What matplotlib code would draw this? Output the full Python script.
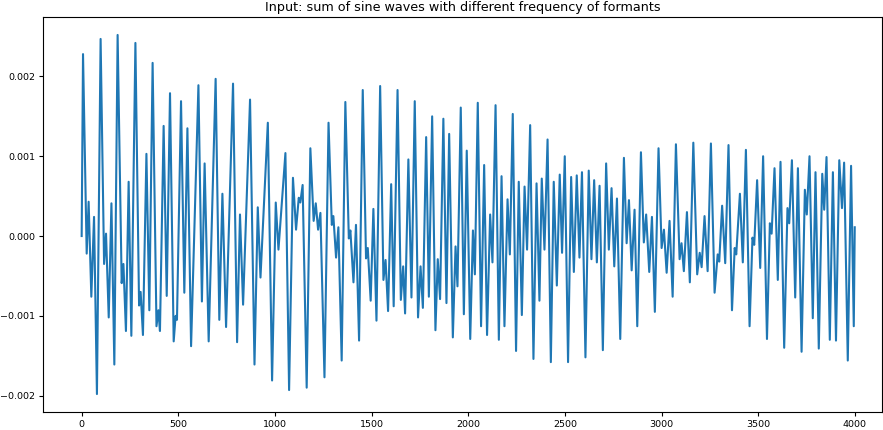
import numpy as np
import matplotlib
matplotlib.use("Agg")
import matplotlib.pyplot as plt

# Turning points of the synthesized signal (sample index, amplitude in units of 1e-3)
sample_idx = [
    0, 7, 26, 36, 50, 64, 79, 98, 116, 126, 140, 154, 169, 186, 207, 216, 229, 243, 257, 278, 297, 305, 317,
    335, 350, 367, 387, 397, 405, 424, 440, 457, 476, 486, 493, 514, 531, 547, 566, 604, 622, 636, 657,
    693, 712, 728, 747, 783, 804, 819, 835, 871, 894, 911, 925, 963, 985, 1004,
    1018, 1054, 1073, 1093, 1109, 1123, 1131, 1143, 1164, 1183, 1200, 1211, 1223, 1235, 1256, 1277, 1294, 1302, 1316, 1328,
    1345, 1364, 1382, 1390, 1406, 1419, 1435, 1454, 1471, 1480, 1495, 1509, 1525, 1544, 1561, 1572, 1585, 1601, 1614, 1634, 1651, 1663, 1673,
    1690, 1706, 1723, 1740, 1753, 1765, 1782, 1796, 1813, 1830, 1842, 1854, 1871, 1887, 1901, 1920, 1934, 1944, 1961, 1977, 1992, 2010, 2024,
    2034, 2049, 2066, 2082, 2097, 2113, 2125, 2141, 2158, 2172, 2187, 2203, 2215, 2230, 2247, 2261, 2277, 2291, 2304, 2320, 2337, 2353, 2368,
    2380, 2394, 2410, 2427, 2442, 2458, 2473, 2485, 2499, 2516, 2532, 2546, 2561, 2575, 2588, 2606, 2623, 2637, 2651, 2665, 2679, 2696,
    2713, 2727, 2741, 2755, 2769, 2786, 2805, 2819, 2831, 2845, 2860, 2874, 2893, 2908, 2920, 2936, 2950, 2965, 2984, 3000, 3012, 3026, 3041,
    3057, 3074, 3093, 3103, 3115, 3131, 3146, 3164, 3184, 3197, 3207, 3222, 3238, 3255, 3274, 3290, 3298, 3313, 3329, 3346, 3364, 3378, 3386,
    3405, 3420, 3436, 3455, 3470, 3479, 3494, 3510, 3525, 3545, 3560, 3569, 3584, 3601, 3615, 3634, 3651, 3660, 3674, 3691, 3705, 3724,
    3741, 3751, 3765, 3782, 3796, 3813, 3831, 3841, 3853, 3870, 3886, 3902, 3919, 3933, 3944, 3963, 3980, 3994, 3999,
]
amp_milli = [
    0, 2.28, -0.22, 0.43, -0.76, 0.24, -1.98, 2.47, -0.35, 0.03, -1.02, 0.41, -1.61, 2.52, -0.59, -0.35, -1.19, 0.68, -1.25, 2.42, -0.87, -0.70, -1.24,
    1.03, -0.93, 2.17, -1.13, -0.93, -1.19, 1.38, -0.75, 1.79, -1.32, -1.00, -1.05, 1.69, -0.71, 1.35, -1.38, 1.89, -0.82, 0.91, -1.32,
    1.97, -1.05, 0.53, -1.14, 1.91, -1.33, 0.27, -0.86, 1.71, -1.61, 0.36, -0.52, 1.42, -1.81, 0.42,
    -0.17, 1.04, -1.93, 0.73, 0.08, 0.48, 0.42, 0.64, -1.90, 1.10, 0.19, 0.41, 0.08, 0.29, -1.77, 1.42, 0.14, 0.25, -0.27, 0.11,
    -1.56, 1.68, -0.03, 0.07, -0.58, 0.14, -1.31, 1.83, -0.28, -0.15, -0.81, 0.34, -1.06, 1.88, -0.55, -0.30, -0.94, 0.65, -0.88, 1.83, -0.80, -0.38, -0.97,
    0.96, -0.77, 1.69, -1.02, -0.38, -0.90, 1.24, -0.76, 1.50, -1.18, -0.29, -0.79, 1.47, -0.84, 1.28, -1.27, -0.13, -0.63, 1.61, -0.98, 1.07, -1.29, 0.07,
    -0.48, 1.67, -1.13, 0.89, -1.24, 0.27, -0.33, 1.64, -1.30, 0.75, -1.13, 0.46, -0.23, 1.53, -1.44, 0.68, -0.99, 0.62, -0.17, 1.39, -1.54, 0.66, -0.81,
    0.72, -0.17, 1.21, -1.58, 0.68, -0.62, 0.77, -0.21, 1.00, -1.58, 0.74, -0.45, 0.76, -0.27, 0.80, -1.52, 0.82, -0.29, 0.70, -0.33, 0.63, -1.43,
    0.91, -0.17, 0.60, -0.38, 0.47, -1.29, 0.98, -0.09, 0.45, -0.43, 0.33, -1.13, 1.05, -0.08, 0.27, -0.45, 0.24, -0.95, 1.10, -0.15, 0.08, -0.46, 0.19,
    -0.76, 1.15, -0.29, -0.09, -0.44, 0.30, -0.58, 1.17, -0.48, -0.21, -0.39, 0.25, -0.44, 1.16, -0.71, -0.23, -0.32, 0.38, -0.34, 1.14, -0.93, -0.15, -0.23,
    0.53, -0.33, 1.08, -1.13, -0.02, -0.11, 0.70, -0.40, 1.00, -1.29, 0.16, 0.03, 0.85, -0.55, 0.93, -1.40, 0.35, 0.16, 0.95, -0.77, 0.85, -1.45,
    0.58, 0.27, 1.00, -1.03, 0.80, -1.41, 0.78, 0.33, 0.99, -1.30, 0.80, -1.31, 0.95, 0.35, 0.92, -1.56, 0.88, -1.13, 0.11,
]

title = "Input: sum of sine waves with different frequency of formants"

x = np.array(sample_idx)
y = np.array(amp_milli) * 1e-3

fig = plt.figure(figsize=(8.83, 4.30), dpi=100)
ax = fig.add_axes([43 / 883, 1 - 412 / 430, (882 - 43) / 883, (412 - 17) / 430])
ax.plot(x, y, color="#1f77b4", linewidth=1.5)
ax.set_xlim(-200, 4140)
ax.set_title(title, fontsize=9.2, pad=4)
ax.tick_params(labelsize=6.8, length=3, pad=2.5)
fig.savefig("out.png", dpi=100)
